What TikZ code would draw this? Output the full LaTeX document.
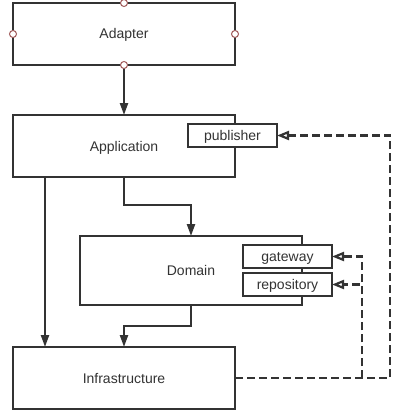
\documentclass[tikz,border=0pt]{standalone}
\usepackage{fontspec}
\setmainfont{Liberation Sans}
\usepackage{tikz}
\usetikzlibrary{positioning,arrows.meta}
\definecolor{linegray}{HTML}{333333}
\definecolor{portred}{HTML}{A05A5A}

\begin{document}
\begin{tikzpicture}[x=1pt,y=-1pt,
layernode/.style={rectangle, draw=linegray, fill=white, line width=2.2pt, minimum width=222pt, minimum height=62pt,
inner sep=0pt, outer sep=0pt, text=linegray, text height=12pt, text depth=2pt, font=\fontsize{14pt}{16pt}\selectfont,
},
portnode/.style={rectangle, draw=linegray, fill=white, line width=2.2pt, minimum width=89pt, minimum height=23pt,
inner sep=0pt, outer sep=0pt, text=linegray, text height=12pt, text depth=2pt, font=\fontsize{14pt}{16pt}\selectfont,
},
pin/.style={circle, draw=portred, fill=white, line width=1pt, minimum size=7pt, inner sep=0pt,
},
dep/.style={draw=linegray, line width=2.2pt, -{Triangle[length=12pt,width=8pt]}},
impl/.style={draw=linegray, line width=2.2pt, dash pattern=on 8pt off 4pt, -{Triangle[open,length=12pt,width=9pt]}},
]
\useasboundingbox (0,0) rectangle (417,420);
%Nodes
\node[layernode]  (adapter)  at (124,34)              {Adapter};
\node[layernode]  (app)      [below=50pt of adapter]  {Application};
\node[layernode]  (infra)    [below=170pt of app]     {Infrastructure};
\node[layernode, minimum height=69pt] (domain) at (191,270.5) {Domain};
\node[portnode]   (publisher)  at (232.5,135.5)       {publisher};
\node[portnode]   (gateway)    at (287.5,256.5)       {gateway};
\node[portnode]   (repository) at (287.5,284.5)       {repository};

%Lines
\draw[dep] (adapter.south) -- (app.north);
\draw[dep] ([xshift=32pt]app.south west) -- ([xshift=32pt]infra.north west);
\draw[dep] (app.south) -- ++(0,28) -| (domain.north);
\draw[dep] (domain.south) -- ++(0,21) -| (infra.north);
\draw[impl] (infra.east) -- ++(155,0) |- (publisher.east);
\draw[impl] ([xshift=127pt]infra.east) |- (gateway.east);
\draw[impl] ([xshift=127pt]infra.east) |- (repository.east);

%Ports
\foreach \a in {north,south,east,west}
  \node[pin] (pin-\a) at (adapter.\a) {};
\end{tikzpicture}
\end{document}
